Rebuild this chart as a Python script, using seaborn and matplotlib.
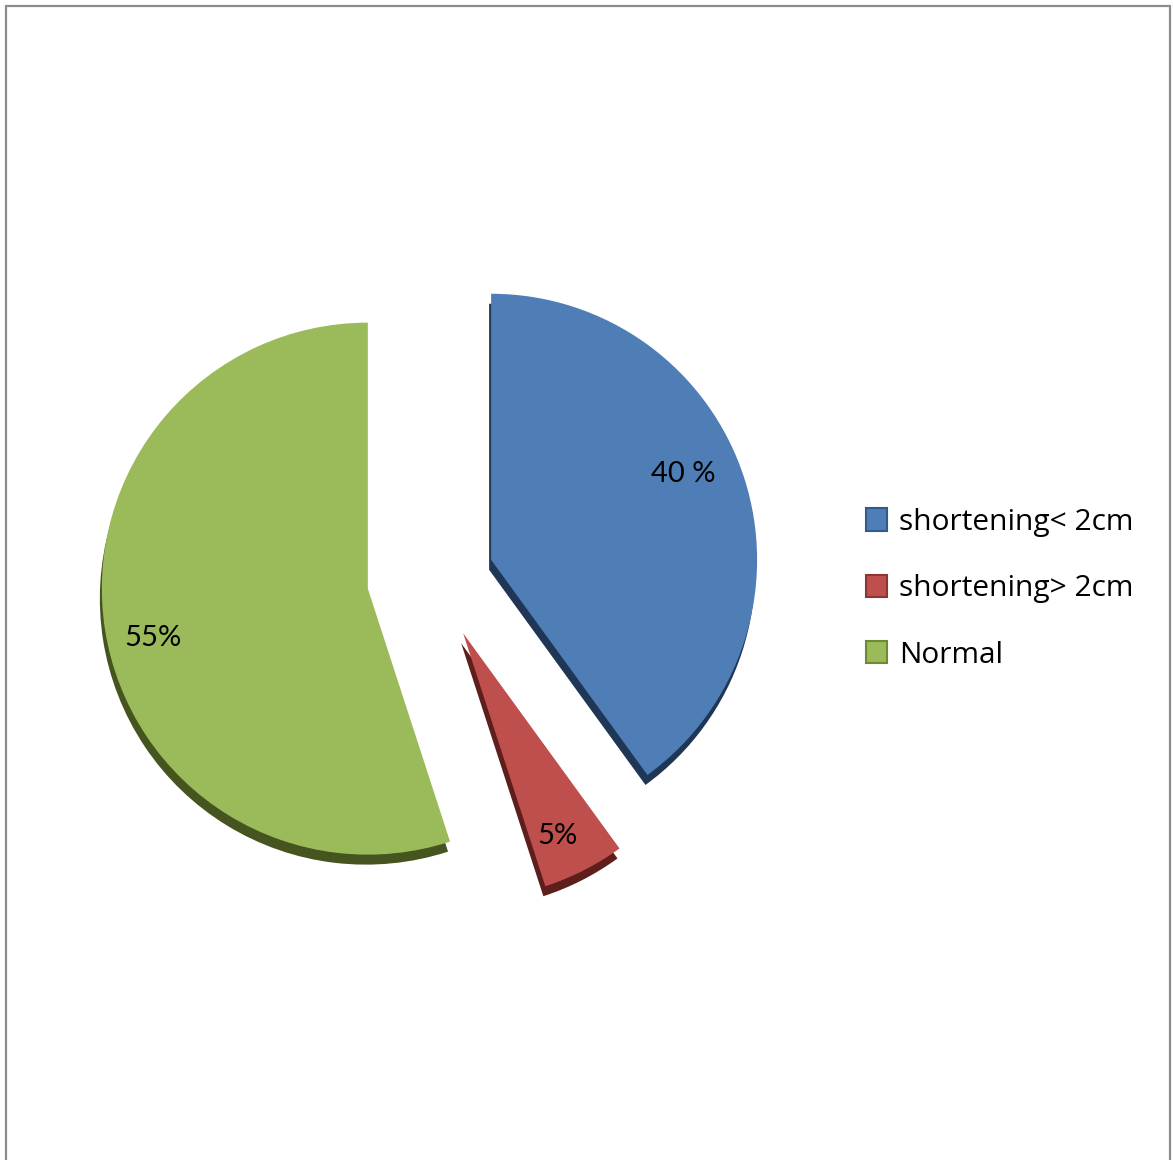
import matplotlib
matplotlib.use("Agg")
import matplotlib.pyplot as plt
import seaborn as sns
import numpy as np
from matplotlib.patches import Rectangle

sns.set_theme(style="white")
plt.rcParams['font.family'] = ['Lato', 'DejaVu Sans']

# Data
categories = ["shortening< 2cm", "shortening> 2cm", "Normal"]
shares = [40, 5, 55]
share_labels = ["40 %", "5%", "55%"]

face_colors = ["#4F7EB6", "#BE4F4C", "#9BBA5A"]
side_colors = ["#1F3656", "#5E1E1C", "#46541F"]
edge_colors = ["#2F5A8C", "#8C3533", "#6F8A35"]

W, H = 1173, 1160
fig = plt.figure(figsize=(W / 100, H / 100), dpi=100)
ax = fig.add_axes([0, 0, 1, 1])

center = (435, 582)
radius = 266
explode = [59, 62, 68]

# side of the 3D pie: same wedges shifted slightly down-left
side_wedges, _ = ax.pie(shares, colors=side_colors, startangle=90, counterclock=False,
                        explode=explode, radius=radius, center=(center[0] - 2, center[1] - 10),
                        wedgeprops=dict(linewidth=0), frame=True)
wedges, _ = ax.pie(shares, colors=face_colors, startangle=90, counterclock=False,
                   explode=explode, radius=radius, center=center,
                   wedgeprops=dict(linewidth=0), frame=True)
for w in side_wedges:
    w.set_zorder(1)
for w in wedges:
    w.set_zorder(2)

ax.set_xlim(0, W)
ax.set_ylim(0, H)
ax.set_aspect("equal")
ax.axis("off")

# percentage labels, placed along a chosen angle inside each wedge
label_angles = [24, -65, 193]
label_dists = [0.79, 0.84, 0.83]
for w, txt, ang, d in zip(wedges, share_labels, label_angles, label_dists):
    cx, cy = w.center
    a = np.deg2rad(ang)
    ax.text(cx + d * radius * np.cos(a), cy + d * radius * np.sin(a), txt,
            ha="center", va="center", fontsize=21, color="black", zorder=5)

# legend
leg = ax.legend(wedges, categories, loc="upper left", bbox_to_anchor=(866 / W, 1 - 508 / H),
                bbox_transform=fig.transFigure, frameon=False,
                prop=dict(family=["Open Sans", "DejaVu Sans"], size=21.5),
                handlelength=0.7, handleheight=0.78, handletextpad=0.4,
                labelspacing=1.25, borderpad=0, borderaxespad=0, labelcolor="black")
for h, ec in zip(leg.legend_handles, edge_colors):
    h.set_edgecolor(ec)
    h.set_linewidth(1.5)

# outer frame
fig.patches.append(Rectangle((6 / W, -0.01), (1170 - 6) / W, 1.01 - 6 / H,
                             transform=fig.transFigure, fill=False,
                             edgecolor="#8C8C8C", linewidth=1.6))

fig.savefig("out.png", dpi=100, facecolor="white")
